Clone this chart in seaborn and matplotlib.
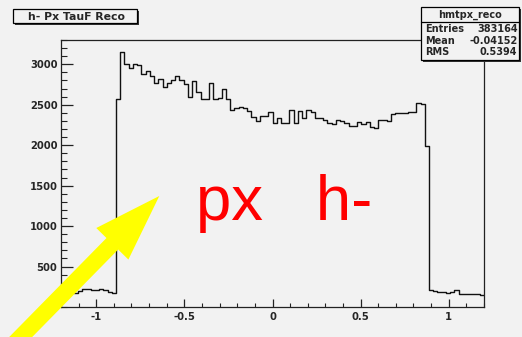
import numpy as np
import pandas as pd
import seaborn as sns
import matplotlib.pyplot as plt
from matplotlib.patches import Rectangle, Polygon
from matplotlib.ticker import MultipleLocator, FixedLocator

W, H = 522, 337
BG = '#f2f2f2'

# histogram binning: 100 bins over [-1.2, 1.2]
x_min, x_max, n_bins = -1.2, 1.2, 100
counts = [
    200, 190, 188, 178, 200, 222, 220, 210, 210, 222, 205, 180, 178,
    2570, 3150, 3000, 2955, 3000, 2990, 2881, 2919, 2849, 2766, 2812,
    2721, 2770, 2800, 2857, 2807, 2758, 2590, 2791, 2659, 2565, 2565,
    2763, 2573, 2577, 2689, 2565, 2433, 2461, 2474, 2454, 2425, 2350,
    2301, 2363, 2359, 2404, 2269, 2330, 2269, 2269, 2437, 2269, 2425,
    2330, 2437, 2404, 2330, 2330, 2309, 2269, 2265, 2313, 2305, 2276,
    2235, 2235, 2281, 2256, 2281, 2223, 2207, 2309, 2309, 2300, 2380,
    2392, 2396, 2396, 2404, 2413, 2523, 2515, 1990,
    210, 195, 180, 180, 178, 182, 205, 165, 160, 155, 160, 158, 150,
]
x_ticks = [-1, -0.5, 0, 0.5, 1]
x_tick_labels = ['-1', '-0.5', '0', '0.5', '1']
y_ticks = [500, 1000, 1500, 2000, 2500, 3000]
y_tick_labels = ['500', '1000', '1500', '2000', '2500', '3000']

hist_title = 'h- Px TauF Reco'
stats_name = 'hmtpx_reco'
stats_rows = [('Entries', '383164'), ('Mean', '-0.04152'), ('RMS', '0.5394')]
note_text = 'px   h-'

edges = np.linspace(x_min, x_max, n_bins + 1)
centers = 0.5 * (edges[:-1] + edges[1:])
df = pd.DataFrame({'px': centers, 'n': counts})

sns.set_style('ticks')
plt.rcParams['font.family'] = ['DejaVu Sans']
LABEL_FONT = 'DejaVu Sans'
NOTE_FONT = 'Liberation Sans'


def fpos(x, y):
    """pixel position (origin top-left) -> figure fraction"""
    return x / W, 1 - y / H


fig = plt.figure(figsize=(W / 100, H / 100), dpi=100, facecolor=BG)
ax = fig.add_axes([61 / W, 1 - 307 / H, 423 / W, 267 / H], facecolor=BG)

sns.histplot(data=df, x='px', weights='n', bins=n_bins,
             binrange=(x_min, x_max), element='step',
             fill=False, color='#111111', linewidth=1.0, ax=ax)

ax.set_xlim(x_min, x_max)
ax.set_ylim(0, 3300)
ax.set_xlabel('')
ax.set_ylabel('')
for s in ax.spines.values():
    s.set_visible(True)
    s.set_color('#222222')
    s.set_linewidth(0.9)

ax.xaxis.set_major_locator(FixedLocator(x_ticks))
ax.set_xticklabels(x_tick_labels)
ax.xaxis.set_minor_locator(MultipleLocator(0.1))
ax.yaxis.set_major_locator(FixedLocator(y_ticks))
ax.set_yticklabels(y_tick_labels)
ax.yaxis.set_minor_locator(MultipleLocator(100))
ax.tick_params(axis='x', which='major', direction='in', length=6.0, width=0.9,
               color='#222222', pad=3.4, labelsize=7.2)
ax.tick_params(axis='x', which='minor', direction='in', length=2.7, width=0.8,
               color='#222222')
ax.tick_params(axis='y', which='major', direction='in', length=8.8, width=0.9,
               color='#222222', pad=2.6, labelsize=7.2)
ax.tick_params(axis='y', which='minor', direction='in', length=4.6, width=0.8,
               color='#222222')
for lab in ax.get_xticklabels() + ax.get_yticklabels():
    lab.set_fontweight('bold')
    lab.set_family(LABEL_FONT)
ax.grid(False)


def pave(x0, y0, x1, y1):
    sx, sy = fpos(x0 + 2, y1 + 2)
    fig.add_artist(Rectangle((sx, sy), (x1 - x0) / W, (y1 - y0) / H,
                             transform=fig.transFigure, facecolor='#333333',
                             edgecolor='none', zorder=5))
    bx, by = fpos(x0, y1)
    fig.add_artist(Rectangle((bx, by), (x1 - x0) / W, (y1 - y0) / H,
                             transform=fig.transFigure, facecolor=BG,
                             edgecolor='black', linewidth=0.9, zorder=6))


# title pave
pave(13, 9, 137, 23)
fig.text(*fpos(76, 16.5), hist_title, ha='center', va='center',
         fontsize=7.8, fontweight='bold', family=LABEL_FONT, zorder=7)

# statistics pave
pave(421, 7, 519, 60)
fig.add_artist(plt.Line2D([421 / W, 519 / W], [1 - 22 / H, 1 - 22 / H],
                          transform=fig.transFigure, color='black',
                          linewidth=0.9, zorder=7))
fig.text(*fpos(470, 14.5), stats_name, ha='center', va='center',
         fontsize=7.0, fontweight='bold', family=LABEL_FONT, zorder=7)
for i, (k, v) in enumerate(stats_rows):
    yy = 29.5 + 11.3 * i
    fig.text(*fpos(425.5, yy), k, ha='left', va='center',
             fontsize=7.0, fontweight='bold', family=LABEL_FONT, zorder=7)
    fig.text(*fpos(517.5, yy), v, ha='right', va='center',
             fontsize=7.0, fontweight='bold', family=LABEL_FONT, zorder=7)

# red annotation
fig.text(*fpos(196, 220), note_text, ha='left', va='baseline',
         fontsize=45.7, color='#ff0000', family=NOTE_FONT, zorder=8)

# yellow arrow pointing at the rising edge
tip = np.array([159.3, 196.0])
tail = np.array([4.0, 354.0])
u = (tip - tail) / np.linalg.norm(tip - tail)
n = np.array([u[1], -u[0]])
head_len, head_half, shaft_half = 67.0, 22.5, 8.2
base = tip - u * head_len
pts_px = [tail + n * shaft_half, base + n * shaft_half, base + n * head_half,
          tip, base - n * head_half, base - n * shaft_half, tail - n * shaft_half]
pts = [fpos(p[0], p[1]) for p in pts_px]
fig.add_artist(Polygon(pts, closed=True, transform=fig.transFigure,
                       facecolor='#ffff00', edgecolor='none', zorder=9))

fig.savefig('out.png', dpi=100, facecolor=BG)
